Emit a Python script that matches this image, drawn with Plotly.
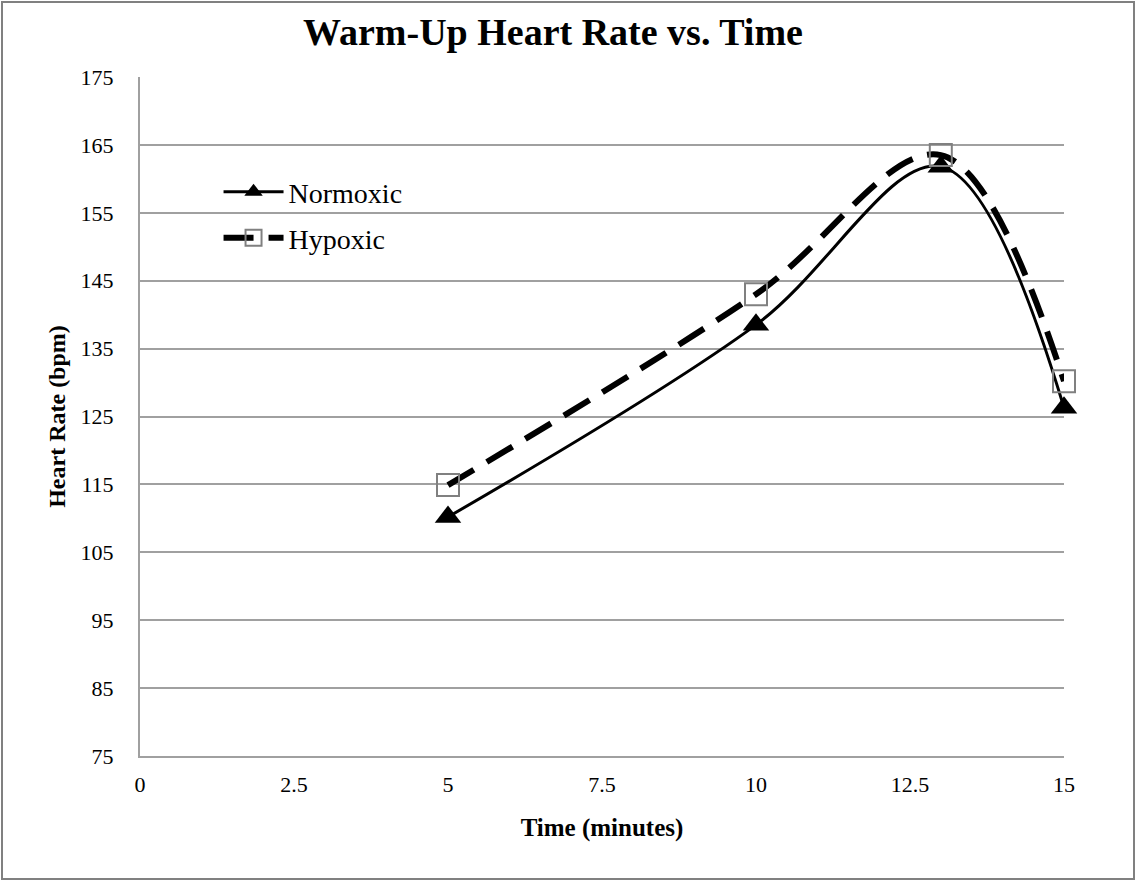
import plotly.graph_objects as go

time_min = [5, 10, 13, 15]
normoxic = [110.2, 138.5, 161.8, 126.3]
hypoxic = [114.9, 143.0, 163.5, 130.2]
x_ticks = [0, 2.5, 5, 7.5, 10, 12.5, 15]
y_ticks = [75, 85, 95, 105, 115, 125, 135, 145, 155, 165, 175]

FONT = "Liberation Serif, Times New Roman, serif"
L, R, T, B = 140, 72, 77, 125
W, H = 1136, 881
pw, ph = W - L - R, H - T - B

fig = go.Figure()
fig.add_trace(go.Scatter(
    x=time_min, y=normoxic, name="Normoxic", mode="lines+markers", cliponaxis=False,
    line=dict(color="black", width=3, shape="spline", smoothing=1.0),
    marker=dict(symbol="triangle-up", size=23, color="black"),
    legend="legend",
))
fig.add_trace(go.Scatter(
    x=time_min, y=hypoxic, name="Hypoxic", mode="lines+markers", cliponaxis=False,
    line=dict(color="black", width=6, dash="30px,15px", shape="spline", smoothing=1.0),
    marker=dict(symbol="square-open", size=22, color="#808080", line=dict(width=2, color="#808080")),
    legend="legend2",
))

def py(pix):
    return (T + ph - pix) / ph

leg_common = dict(xanchor="left", yanchor="middle", bgcolor="rgba(0,0,0,0)",
                  font=dict(family=FONT, size=28, color="black"), itemwidth=60)

fig.update_layout(
    width=W, height=H,
    margin=dict(l=L, r=R, t=T, b=B),
    paper_bgcolor="white", plot_bgcolor="white",
    title=dict(text="<b>Warm-Up Heart Rate vs. Time</b>", x=(553 - L) / pw, xanchor="center",
               xref="paper", y=1 - 32 / H, yanchor="middle",
               font=dict(family=FONT, size=38, color="black")),
    font=dict(family=FONT, color="black"),
    showlegend=True,
    legend=dict(x=0.085, y=py(192), **leg_common),
    legend2=dict(x=0.085, y=py(238), **leg_common),
    xaxis=dict(range=[0, 15], tickvals=x_ticks, ticktext=[str(v) for v in x_ticks],
               showgrid=False, zeroline=False, showline=True, linecolor="#a0a0a0", linewidth=2,
               ticks="", tickfont=dict(family=FONT, size=22, color="black"), ticklabelstandoff=8,
               title=dict(text="<b>Time (minutes)</b>", font=dict(family=FONT, size=25, color="black"),
                          standoff=22)),
    yaxis=dict(range=[75, 175], tickvals=y_ticks, showgrid=True, gridcolor="#a0a0a0", gridwidth=1.5,
               zeroline=False, showline=True, linecolor="#a0a0a0", linewidth=2,
               ticks="", tickfont=dict(family=FONT, size=22, color="black"), ticklabelstandoff=20,
               title=dict(text="<b>Heart Rate (bpm)</b>", font=dict(family=FONT, size=24, color="black"),
                          standoff=8)),
)

fig.add_shape(type="rect", xref="paper", yref="paper",
              x0=(2 - L) / pw, x1=(W - 2 - L) / pw,
              y0=(ph + T - (H - 2)) / ph, y1=(ph + T - 2) / ph,
              line=dict(color="#808080", width=2), fillcolor="rgba(0,0,0,0)", layer="below")

fig.write_html("out.html", config={"displayModeBar": False},
               post_script="document.body.style.margin='0';document.body.style.overflow='hidden';")
